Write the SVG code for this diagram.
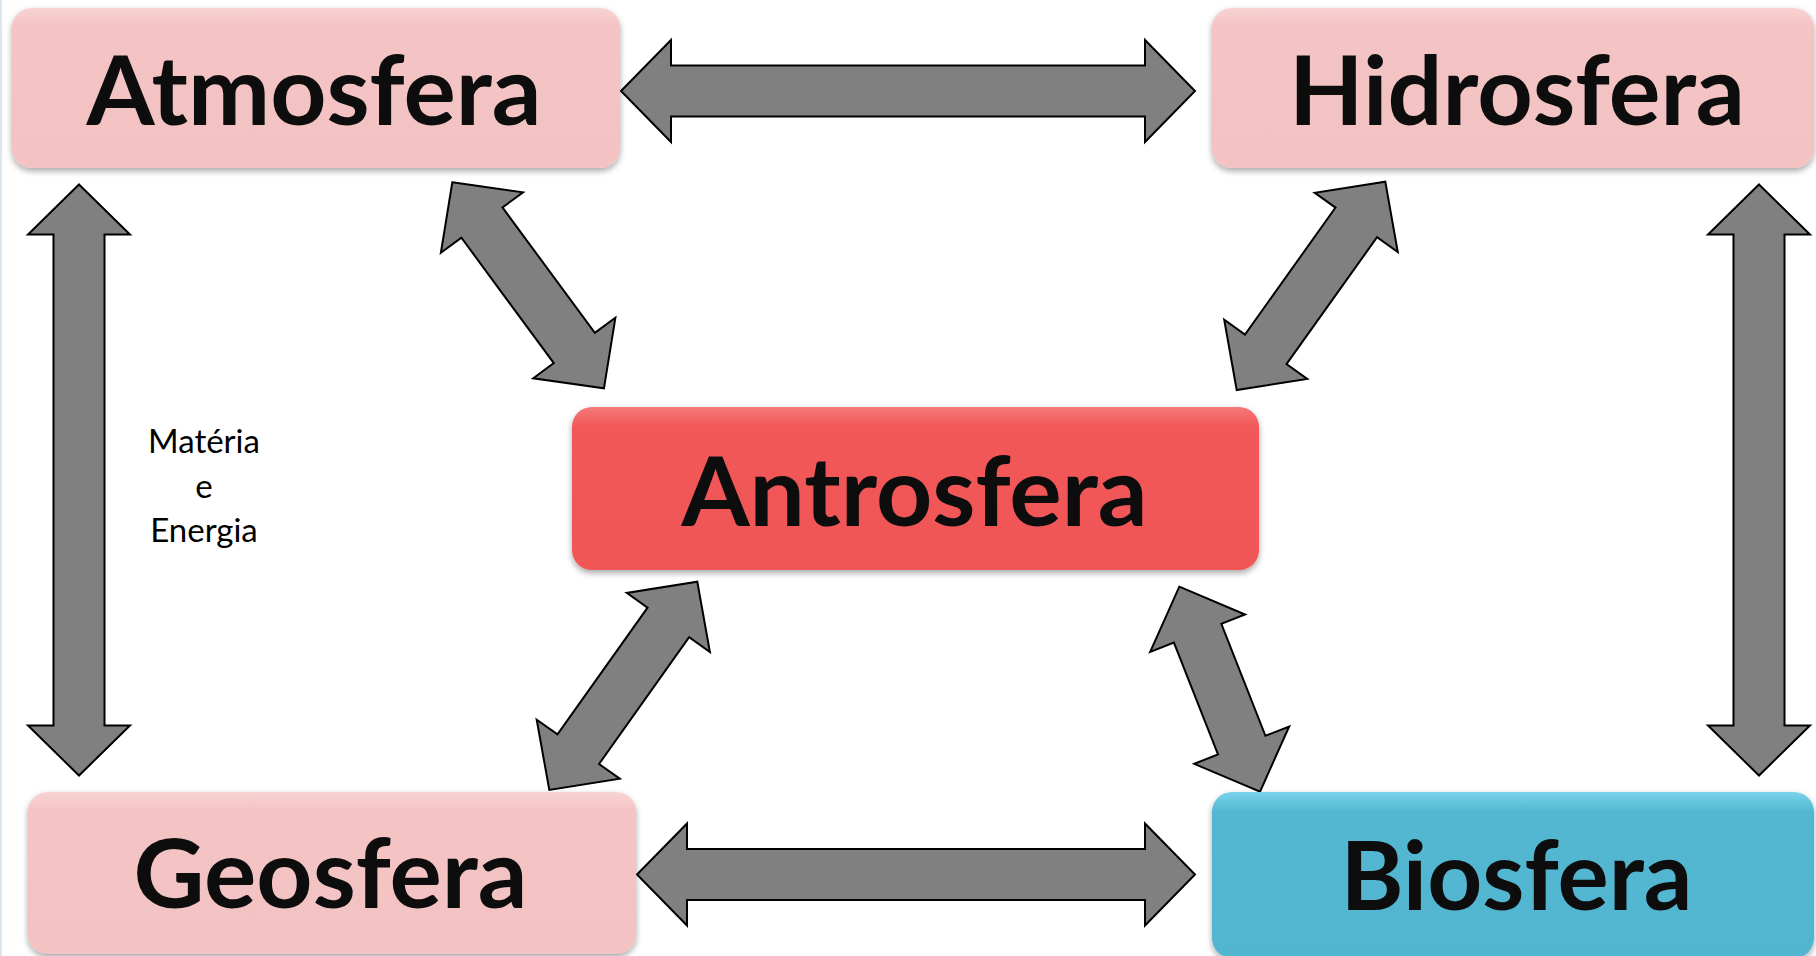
<svg xmlns="http://www.w3.org/2000/svg" width="1816" height="956" viewBox="0 0 1816 956">
  <defs>
    <style>
      .arrow { fill: #808080; stroke: #000000; stroke-width: 2; stroke-linejoin: miter; }
      .big { font-family: Lato, "Open Sans", "Liberation Sans", sans-serif; font-weight: bold; font-size: 96px; fill: #0D0D0D; text-anchor: middle; }
      .small { font-family: Lato, "Open Sans", "Liberation Sans", sans-serif; font-size: 33px; fill: #000000; text-anchor: middle; }
      .box { filter: url(#shadow); }
    </style>
    <linearGradient id="gPink" x1="0" y1="0" x2="0" y2="1">
      <stop offset="0" stop-color="#F8D3D3"/>
      <stop offset="0.12" stop-color="#F4C3C4"/>
      <stop offset="1" stop-color="#F3C2C3"/>
    </linearGradient>
    <linearGradient id="gRed" x1="0" y1="0" x2="0" y2="1">
      <stop offset="0" stop-color="#F67879"/>
      <stop offset="0.12" stop-color="#F25858"/>
      <stop offset="1" stop-color="#F05657"/>
    </linearGradient>
    <linearGradient id="gBlue" x1="0" y1="0" x2="0" y2="1">
      <stop offset="0" stop-color="#7AD3EA"/>
      <stop offset="0.12" stop-color="#52B7D1"/>
      <stop offset="1" stop-color="#52B6D0"/>
    </linearGradient>
    <filter id="shadow" x="-5%" y="-10%" width="110%" height="125%">
      <feDropShadow dx="0" dy="3" stdDeviation="3" flood-color="#000000" flood-opacity="0.35"/>
    </filter>
  </defs>

  <rect x="0" y="0" width="1816" height="956" fill="#FFFFFF"/>
  <line x1="1" y1="0" x2="1" y2="956" stroke="#DCE6F0" stroke-width="2"/>

  <g id="connectors">
    <polygon class="arrow" transform="translate(621,91)" points="0,0 50,-51 50,-25.5 524,-25.5 524,-51 574,0 524,51 524,25.5 50,25.5 50,51"/>
    <polygon class="arrow" transform="translate(637,874.5)" points="0,0 50,-51 50,-25.5 508,-25.5 508,-51 558,0 508,51 508,25.5 50,25.5 50,51"/>
    <polygon class="arrow" transform="translate(79,184.5) rotate(90)" points="0,0 50,-51 50,-25.5 541,-25.5 541,-51 591,0 541,51 541,25.5 50,25.5 50,51"/>
    <polygon class="arrow" transform="translate(1759,184.5) rotate(90)" points="0,0 50,-51 50,-25.5 541,-25.5 541,-51 591,0 541,51 541,25.5 50,25.5 50,51"/>
    <polygon class="arrow" transform="translate(452.3,182.3) rotate(53.64)" points="0,0 50,-51 50,-25.5 205.8,-25.5 205.8,-51 255.8,0 205.8,51 205.8,25.5 50,25.5 50,51"/>
    <polygon class="arrow" transform="translate(1385.3,181.7) rotate(125.5)" points="0,0 50,-51 50,-25.5 205.9,-25.5 205.9,-51 255.9,0 205.9,51 205.9,25.5 50,25.5 50,51"/>
    <polygon class="arrow" transform="translate(697.3,581.7) rotate(125.4)" points="0,0 50,-51 50,-25.5 205.5,-25.5 205.5,-51 255.5,0 205.5,51 205.5,25.5 50,25.5 50,51"/>
    <polygon class="arrow" transform="translate(1179.3,586.7) rotate(68.5)" points="0,0 50,-51 50,-25.5 170.3,-25.5 170.3,-51 220.3,0 170.3,51 170.3,25.5 50,25.5 50,51"/>
  </g>

  <g id="label-materia-energia">
    <text class="small" x="204" y="453">Matéria</text>
    <text class="small" x="204" y="498">e</text>
    <text class="small" x="204" y="542">Energia</text>
  </g>

  <g id="atmosfera">
    <rect class="box" x="12" y="8" width="608" height="160" rx="20" ry="20" fill="url(#gPink)"/>
    <text class="big" x="314" y="125" textLength="455" lengthAdjust="spacingAndGlyphs">Atmosfera</text>
  </g>

  <g id="hidrosfera">
    <rect class="box" x="1212" y="8" width="602" height="160" rx="20" ry="20" fill="url(#gPink)"/>
    <text class="big" x="1517" y="125" textLength="456" lengthAdjust="spacingAndGlyphs">Hidrosfera</text>
  </g>

  <g id="antrosfera">
    <rect class="box" x="572" y="407" width="687" height="163" rx="20" ry="20" fill="url(#gRed)"/>
    <text class="big" x="914.5" y="526" textLength="466" lengthAdjust="spacingAndGlyphs">Antrosfera</text>
  </g>

  <g id="geosfera">
    <rect class="box" x="28" y="792" width="608" height="162" rx="20" ry="20" fill="url(#gPink)"/>
    <text class="big" x="330.5" y="908" textLength="394" lengthAdjust="spacingAndGlyphs">Geosfera</text>
  </g>

  <g id="biosfera">
    <rect class="box" x="1212" y="792" width="602" height="166" rx="20" ry="20" fill="url(#gBlue)"/>
    <text class="big" x="1516.5" y="910" textLength="352" lengthAdjust="spacingAndGlyphs">Biosfera</text>
  </g>
</svg>
